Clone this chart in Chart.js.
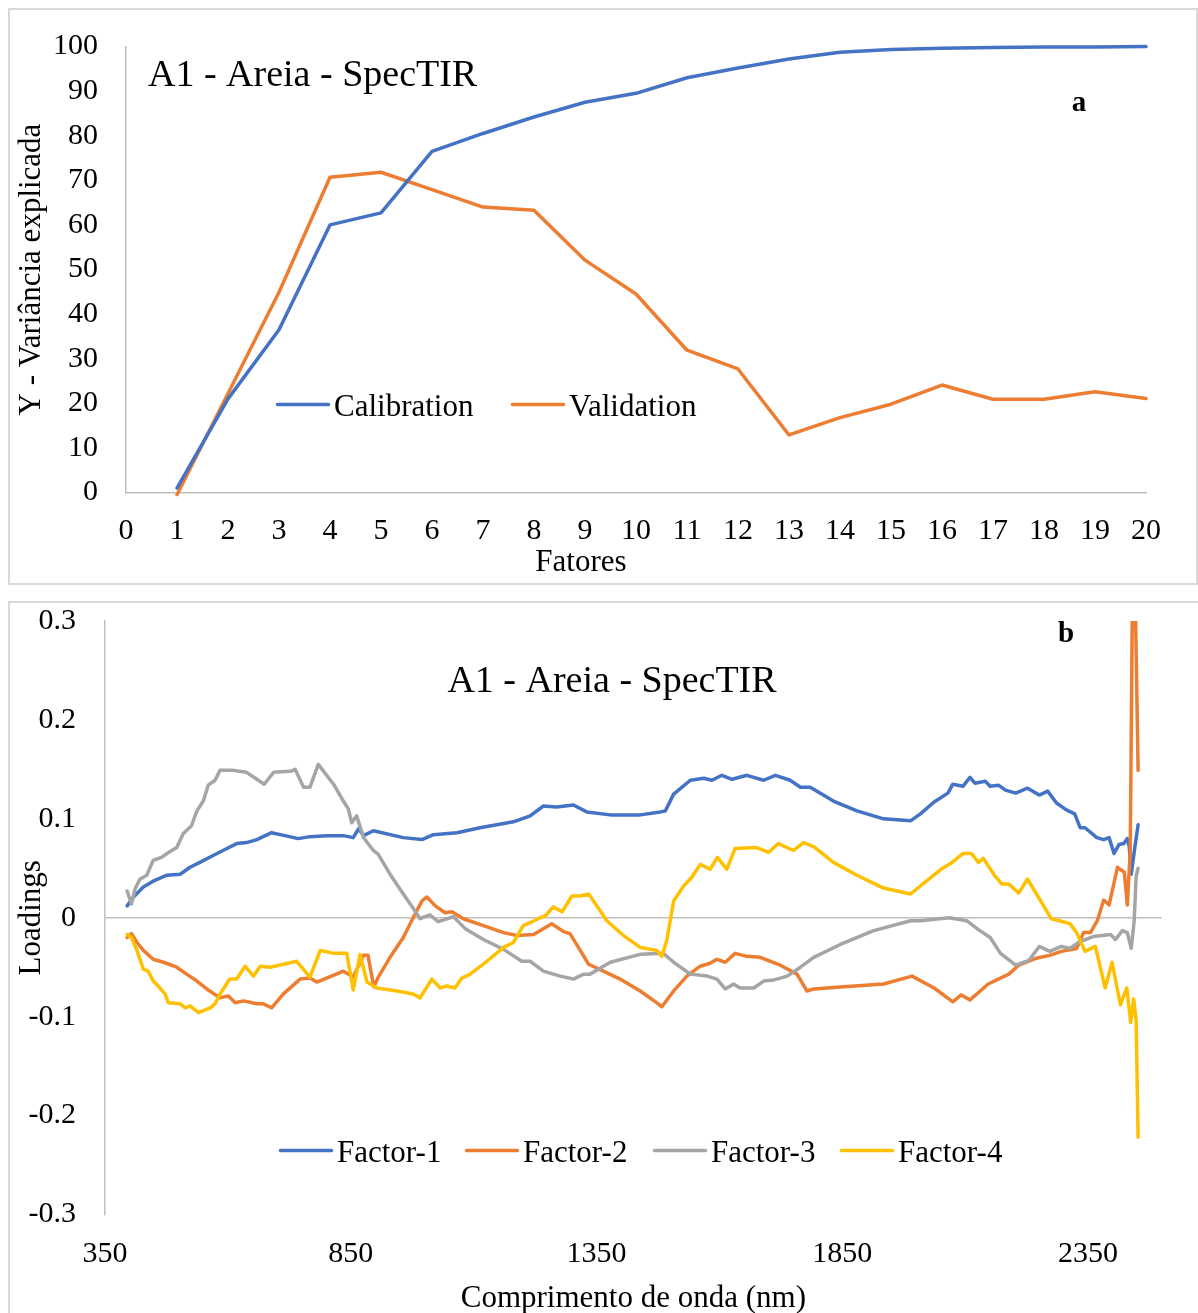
<!DOCTYPE html>
<html>
<head>
<meta charset="utf-8">
<script src="https://cdn.jsdelivr.net/npm/chart.js@4.4.0/dist/chart.umd.min.js"></script>
<style>
  body { margin: 0; background: #fff; width: 1198px; height: 1313px; overflow: hidden; position: relative; }
  .frame { position: absolute; border: 2px solid #d9d9d9; box-sizing: border-box; }
  canvas { position: absolute; left: 0; }
</style>
</head>
<body>
<div class="frame" style="left:8px; top:8px; width:1190px; height:577px;"></div>
<div class="frame" style="left:8px; top:601px; width:1200px; height:730px;"></div>
<canvas id="chartA" width="1198" height="590" style="top:0"></canvas>
<canvas id="chartB" width="1198" height="730" style="top:595px"></canvas>
<script>
// ---- chart a: explained variance ----
var factors = [1, 2, 3, 4, 5, 6, 7, 8, 9, 10, 11, 12, 13, 14, 15, 16, 17, 18, 19, 20];
var calibration = [1, 21, 36.5, 60, 62.7, 76.5, 80.5, 84.2, 87.5, 89.5, 93, 95.2, 97.2, 98.7, 99.3, 99.6, 99.8, 99.9, 99.9, 100];
var validation = [-0.5, 22.2, 44.9, 70.7, 71.8, 67.9, 64, 63.3, 52.1, 44.5, 31.9, 27.7, 12.9, 16.8, 19.8, 24.1, 20.9, 20.9, 22.6, 21.1];

// ---- chart b: loadings ----
var nmTicks = [350, 850, 1350, 1850, 2350];

var f1Nm = [395, 408, 428, 448, 476, 503, 523, 543, 570, 598, 618, 638, 659, 689, 716, 743, 767, 801, 835, 855, 866, 876, 896, 957, 995, 1018, 1066, 1113, 1181, 1215, 1242, 1269, 1303, 1330, 1378, 1439, 1480, 1490, 1507, 1541, 1568, 1585, 1605, 1626, 1656, 1690, 1714, 1744, 1765, 1785, 1832, 1880, 1934, 1989, 2009, 2037, 2065, 2075, 2096, 2110, 2120, 2141, 2151, 2168, 2182, 2203, 2227, 2251, 2268, 2286, 2306, 2323, 2334, 2344, 2368, 2382, 2393, 2403, 2413, 2423, 2430, 2434, 2438, 2445, 2452];
var f1 = [0.012, 0.021, 0.031, 0.037, 0.043, 0.044, 0.051, 0.056, 0.063, 0.070, 0.075, 0.076, 0.079, 0.086, 0.083, 0.080, 0.082, 0.083, 0.083, 0.081, 0.090, 0.083, 0.088, 0.081, 0.079, 0.084, 0.086, 0.091, 0.097, 0.103, 0.113, 0.112, 0.114, 0.107, 0.104, 0.104, 0.107, 0.108, 0.125, 0.139, 0.141, 0.139, 0.144, 0.140, 0.144, 0.139, 0.144, 0.139, 0.132, 0.132, 0.118, 0.108, 0.100, 0.098, 0.105, 0.117, 0.126, 0.135, 0.133, 0.142, 0.136, 0.138, 0.133, 0.134, 0.129, 0.126, 0.131, 0.124, 0.128, 0.116, 0.109, 0.105, 0.091, 0.091, 0.081, 0.079, 0.081, 0.065, 0.074, 0.075, 0.080, 0.072, 0.044, 0.070, 0.094];

var f2Nm = [395, 404, 415, 428, 448, 469, 496, 516, 537, 557, 584, 601, 615, 632, 659, 672, 689, 713, 747, 767, 781, 801, 835, 855, 876, 885, 897, 906, 930, 957, 977, 995, 1005, 1022, 1042, 1056, 1079, 1120, 1161, 1188, 1222, 1259, 1283, 1296, 1317, 1334, 1364, 1398, 1439, 1473, 1483, 1507, 1534, 1561, 1581, 1595, 1612, 1632, 1656, 1683, 1724, 1758, 1778, 1792, 1846, 1934, 1992, 2037, 2075, 2092, 2110, 2147, 2189, 2209, 2244, 2272, 2296, 2327, 2341, 2355, 2369, 2382, 2393, 2410, 2424, 2430, 2436, 2440, 2447, 2452];
var f2 = [-0.020, -0.016, -0.025, -0.033, -0.042, -0.045, -0.050, -0.057, -0.064, -0.072, -0.081, -0.079, -0.086, -0.084, -0.087, -0.087, -0.091, -0.077, -0.062, -0.061, -0.065, -0.061, -0.054, -0.060, -0.038, -0.038, -0.070, -0.060, -0.040, -0.020, 0.000, 0.017, 0.021, 0.012, 0.005, 0.006, -0.001, -0.008, -0.015, -0.018, -0.017, -0.006, -0.014, -0.016, -0.033, -0.047, -0.054, -0.062, -0.074, -0.086, -0.090, -0.074, -0.059, -0.049, -0.046, -0.042, -0.045, -0.036, -0.039, -0.040, -0.048, -0.057, -0.074, -0.072, -0.070, -0.067, -0.059, -0.071, -0.085, -0.078, -0.083, -0.067, -0.057, -0.048, -0.041, -0.038, -0.034, -0.031, -0.015, -0.015, -0.003, 0.018, 0.013, 0.051, 0.046, 0.013, 0.067, 0.300, 0.300, 0.149];

var f3Nm = [395, 404, 411, 421, 435, 448, 465, 479, 496, 509, 526, 537, 550, 560, 574, 584, 611, 638, 659, 674, 693, 727, 737, 754, 767, 784, 815, 835, 845, 852, 862, 876, 896, 906, 930, 950, 971, 991, 1011, 1028, 1059, 1083, 1120, 1161, 1198, 1215, 1242, 1276, 1303, 1324, 1337, 1378, 1439, 1486, 1507, 1541, 1575, 1595, 1612, 1629, 1642, 1670, 1690, 1710, 1738, 1765, 1792, 1846, 1914, 1989, 2009, 2068, 2103, 2127, 2151, 2172, 2203, 2230, 2251, 2272, 2296, 2313, 2334, 2361, 2396, 2406, 2420, 2430, 2438, 2444, 2448, 2452];
var f3 = [0.027, 0.014, 0.029, 0.039, 0.043, 0.058, 0.061, 0.066, 0.071, 0.085, 0.093, 0.108, 0.118, 0.134, 0.139, 0.149, 0.149, 0.147, 0.140, 0.135, 0.147, 0.148, 0.150, 0.132, 0.132, 0.155, 0.135, 0.118, 0.110, 0.096, 0.103, 0.081, 0.068, 0.064, 0.044, 0.029, 0.014, -0.001, 0.003, -0.004, 0.001, -0.011, -0.022, -0.032, -0.044, -0.044, -0.054, -0.059, -0.062, -0.057, -0.057, -0.045, -0.037, -0.036, -0.045, -0.057, -0.059, -0.062, -0.072, -0.067, -0.071, -0.071, -0.064, -0.063, -0.059, -0.050, -0.040, -0.027, -0.013, -0.003, -0.003, 0.000, -0.003, -0.012, -0.020, -0.036, -0.048, -0.043, -0.029, -0.034, -0.029, -0.031, -0.024, -0.019, -0.017, -0.022, -0.013, -0.015, -0.031, -0.003, 0.042, 0.050];

var f4Nm = [395, 404, 415, 428, 438, 448, 458, 472, 479, 503, 513, 523, 540, 564, 574, 584, 604, 618, 635, 652, 666, 686, 740, 767, 788, 815, 842, 855, 869, 883, 903, 944, 977, 991, 1015, 1032, 1045, 1062, 1076, 1093, 1127, 1161, 1181, 1201, 1215, 1235, 1246, 1262, 1280, 1300, 1317, 1334, 1344, 1371, 1405, 1439, 1473, 1483, 1493, 1507, 1527, 1544, 1561, 1581, 1596, 1615, 1632, 1676, 1700, 1720, 1751, 1771, 1792, 1832, 1880, 1934, 1989, 2016, 2051, 2071, 2096, 2113, 2127, 2137, 2161, 2175, 2189, 2209, 2227, 2244, 2261, 2275, 2292, 2313, 2327, 2344, 2365, 2385, 2399, 2416, 2429, 2437, 2443, 2448, 2452];
var f4 = [-0.017, -0.020, -0.033, -0.052, -0.054, -0.064, -0.069, -0.077, -0.086, -0.087, -0.091, -0.089, -0.096, -0.091, -0.087, -0.077, -0.062, -0.062, -0.049, -0.059, -0.049, -0.050, -0.044, -0.060, -0.033, -0.036, -0.036, -0.073, -0.037, -0.065, -0.071, -0.074, -0.077, -0.081, -0.062, -0.071, -0.069, -0.071, -0.061, -0.057, -0.044, -0.030, -0.025, -0.008, -0.005, 0.000, 0.002, 0.011, 0.006, 0.022, 0.022, 0.024, 0.017, -0.003, -0.018, -0.030, -0.033, -0.039, -0.023, 0.017, 0.032, 0.041, 0.054, 0.049, 0.061, 0.049, 0.070, 0.071, 0.066, 0.075, 0.068, 0.076, 0.072, 0.056, 0.043, 0.030, 0.024, 0.035, 0.049, 0.055, 0.065, 0.065, 0.056, 0.060, 0.042, 0.034, 0.034, 0.025, 0.039, 0.025, 0.011, -0.001, -0.003, -0.006, -0.015, -0.034, -0.029, -0.071, -0.045, -0.088, -0.071, -0.106, -0.082, -0.104, -0.222];

var SERIF = "'Liberation Serif', 'Times New Roman', serif";
var LINE_W = 3.5;
Chart.defaults.font.family = SERIF;
Chart.defaults.color = '#000';

function pts(xs, ys) {
    return xs.map(function (x, i) { return { x: x, y: ys[i] }; });
}

// draws free text and a legend placed inside the plot, as in the original figure
var textNotes = {
    id: 'textNotes',
    afterDraw: function (chart, args, opts) {
        var ctx = chart.ctx;
        ctx.save();
        (opts.items || []).forEach(function (it) {
            ctx.font = it.font;
            ctx.fillStyle = '#000';
            ctx.textAlign = it.align || 'left';
            ctx.textBaseline = 'alphabetic';
            ctx.fillText(it.text, it.x, it.y);
        });
        var lg = opts.legend;
        if (lg) {
            chart.data.datasets.forEach(function (ds, i) {
                var x = lg.xs[i];
                ctx.strokeStyle = ds.borderColor;
                ctx.lineWidth = LINE_W;
                ctx.lineCap = 'round';
                ctx.beginPath();
                ctx.moveTo(x + 1.5, lg.y);
                ctx.lineTo(x + lg.len - 1.5, lg.y);
                ctx.stroke();
                ctx.font = lg.font;
                ctx.fillStyle = '#000';
                ctx.textAlign = 'left';
                ctx.textBaseline = 'alphabetic';
                ctx.fillText(ds.label, x + lg.len + lg.gap, lg.y + 11);
            });
        }
        ctx.restore();
    }
};

// fixed scale boxes so the plot areas land where they are in the figure
function fixY(w) {
    return function (s) { s.width = w; s.paddingTop = 0; s.paddingBottom = 0; };
}
function fixX(h) {
    return function (s) { s.height = h; s.paddingLeft = 0; s.paddingRight = 0; };
}

var tickFont = { family: SERIF, size: 30 };
var titleFont = { family: SERIF, size: 31 };
var axisBorder = { display: true, color: '#BFBFBF', width: 1.5 };

var chartA = new Chart(document.getElementById('chartA'), {
    type: 'line',
    data: {
        datasets: [{
            label: 'Calibration',
            data: pts(factors, calibration),
            borderColor: '#4472C4',
            backgroundColor: '#4472C4',
            clip: 4
        }, {
            label: 'Validation',
            data: pts(factors, validation),
            borderColor: '#ED7D31',
            backgroundColor: '#ED7D31',
            clip: 4
        }]
    },
    plugins: [textNotes],
    options: {
        responsive: false,
        animation: false,
        devicePixelRatio: 1,
        layout: { padding: { left: 0, top: 46.5, right: 52, bottom: 0 } },
        elements: {
            point: { radius: 0 },
            line: { tension: 0, borderWidth: LINE_W, borderCapStyle: 'round', borderJoinStyle: 'round' }
        },
        plugins: {
            legend: { display: false },
            tooltip: { enabled: false },
            textNotes: {
                items: [
                    { text: 'A1 - Areia - SpecTIR', x: 148, y: 86, font: '38px ' + SERIF },
                    { text: 'a', x: 1079, y: 111, font: 'bold 29px ' + SERIF, align: 'center' },
                    { text: 'Fatores', x: 581, y: 571, font: '31px ' + SERIF, align: 'center' }
                ],
                legend: { xs: [276, 511], y: 404.5, len: 54, gap: 4, font: '31px ' + SERIF }
            }
        },
        scales: {
            x: {
                type: 'linear',
                min: 0,
                max: 20,
                ticks: { stepSize: 1, padding: 21, font: tickFont, color: '#000', autoSkip: false, maxRotation: 0 },
                grid: { display: false, drawTicks: false },
                border: axisBorder,
                afterFit: fixX(97.5)
            },
            y: {
                min: 0,
                max: 100,
                ticks: { stepSize: 10, padding: 28, font: tickFont, color: '#000' },
                grid: { display: false, drawTicks: false },
                border: axisBorder,
                title: { display: true, text: 'Y - Variância explicada', font: titleFont, color: '#000', padding: { top: 13, bottom: 0 } },
                afterFit: fixY(126)
            }
        }
    }
});

var chartB = new Chart(document.getElementById('chartB'), {
    type: 'line',
    data: {
        datasets: [{
            label: 'Factor-1', data: pts(f1Nm, f1), borderColor: '#4472C4', backgroundColor: '#4472C4', order: 4
        }, {
            label: 'Factor-2', data: pts(f2Nm, f2), borderColor: '#ED7D31', backgroundColor: '#ED7D31', order: 3
        }, {
            label: 'Factor-3', data: pts(f3Nm, f3), borderColor: '#A5A5A5', backgroundColor: '#A5A5A5', order: 2
        }, {
            label: 'Factor-4', data: pts(f4Nm, f4), borderColor: '#FFC000', backgroundColor: '#FFC000', order: 1
        }]
    },
    plugins: [textNotes],
    options: {
        responsive: false,
        animation: false,
        devicePixelRatio: 1,
        layout: { padding: { left: 0, top: 26, right: 36.3, bottom: 0 } },
        elements: {
            point: { radius: 0 },
            line: { tension: 0, borderWidth: LINE_W, borderCapStyle: 'round', borderJoinStyle: 'round' }
        },
        plugins: {
            legend: { display: false },
            tooltip: { enabled: false },
            textNotes: {
                items: [
                    { text: 'A1 - Areia - SpecTIR', x: 612, y: 97, font: '38px ' + SERIF, align: 'center' },
                    { text: 'b', x: 1066, y: 46.5, font: 'bold 29px ' + SERIF, align: 'center' }
                ],
                legend: { xs: [279, 465, 653, 840], y: 555.5, len: 54, gap: 4, font: '31px ' + SERIF }
            }
        },
        scales: {
            x: {
                type: 'linear',
                min: 350,
                max: 2500,
                afterBuildTicks: function (s) {
                    s.ticks = nmTicks.map(function (v) { return { value: v }; });
                },
                ticks: { padding: 22, font: tickFont, color: '#000', autoSkip: false, maxRotation: 0,
                    callback: function (v) { return String(v); } },
                grid: { display: false, drawTicks: false },
                border: { display: false },
                title: { display: true, text: 'Comprimento de onda (nm)', font: titleFont, color: '#000', padding: { top: 0, bottom: 8 } },
                afterFit: fixX(110.5)
            },
            y: {
                min: -0.3,
                max: 0.3,
                ticks: { stepSize: 0.1, padding: 29, font: tickFont, color: '#000' },
                grid: {
                    drawTicks: false,
                    lineWidth: 1.5,
                    color: function (c) {
                        return c.tick && Math.abs(c.tick.value) < 1e-9 ? '#BFBFBF' : 'rgba(0,0,0,0)';
                    }
                },
                border: axisBorder,
                title: { display: true, text: 'Loadings', font: titleFont, color: '#000', padding: { top: 13, bottom: 0 } },
                afterFit: fixY(105)
            }
        }
    }
});
</script>
</body>
</html>
